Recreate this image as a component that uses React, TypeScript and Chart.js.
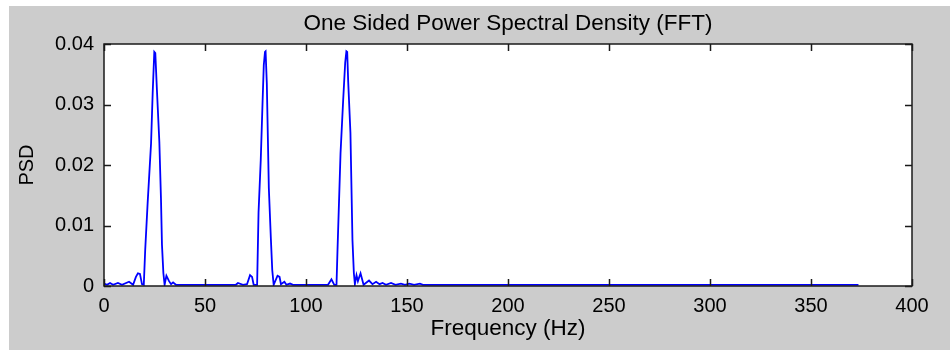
import React, { useEffect, useRef, useState } from "react";
import Chart from "chart.js/auto";

const chartTitle = "One Sided Power Spectral Density (FFT)";
const xAxisTitle = "Frequency (Hz)";
const yAxisTitle = "PSD";

const xTickValues = [0, 50, 100, 150, 200, 250, 300, 350, 400];
const yTickValues = [0, 0.01, 0.02, 0.03, 0.04];

// Frequency (Hz) of each sample of the spectrum
const freqHz = [
  0, 1.5, 3.0, 4.5, 6.9, 8.9, 12.4, 14.4, 15.8, 16.8, 17.8, 18.8,
  19.7, 20.4, 21.6, 23.3, 24.1, 24.9, 25.4, 26.2, 27.4, 28.2, 28.7, 29.4, 30.0,
  30.9, 32.2, 33.2, 34.2, 35.6,
  65.3, 66.3, 68.8, 70.8, 72.3, 73.3, 74.1, 75.8,
  76.5, 77.6, 78.5, 79.1, 79.7, 80.0, 80.6, 81.6, 82.6, 83.3, 84.0,
  85.9, 86.9, 87.6, 89.3, 90.3, 92.1, 93.6,
  110.9, 112.6, 114.0, 115.1,
  115.6, 117.1, 118.4, 119.4, 120.0, 120.4, 120.9, 122.0, 123.0, 123.7, 124.2,
  125.0, 125.7, 127.0, 128.5, 131.2, 132.9, 134.7, 136.4, 137.9, 139.6,
  142.1, 144.3, 147.0, 149.0, 151.2, 153.5, 156.4, 157.9,
  373.5,
];

// One-sided PSD value at each frequency above
const psd = [
  0.0004, 0.0002, 0.0005, 0.0002, 0.0005, 0.0002, 0.0007, 0.0002, 0.0015, 0.0021, 0.002, 0.0003,
  0.0002, 0.006, 0.0137, 0.0236, 0.0319, 0.0387, 0.0385, 0.0324, 0.0238, 0.0145, 0.0068, 0.0021, 0.0002,
  0.0017, 0.0008, 0.0003, 0.0006, 0.0002,
  0.0002, 0.0005, 0.0002, 0.0003, 0.0018, 0.0015, 0.0002, 0.0002,
  0.0121, 0.0208, 0.0304, 0.0365, 0.0387, 0.0388, 0.0335, 0.0162, 0.0079, 0.0026, 0.0002,
  0.0017, 0.0015, 0.0003, 0.0007, 0.0002, 0.0004, 0.0002,
  0.0002, 0.0011, 0.0002, 0.0002,
  0.006, 0.022, 0.0307, 0.0369, 0.0388, 0.0387, 0.0337, 0.0253, 0.0076, 0.0021, 0.0003,
  0.0018, 0.0008, 0.0021, 0.0002, 0.0009, 0.0003, 0.0007, 0.0003, 0.0005, 0.0002,
  0.0005, 0.0002, 0.0004, 0.0002, 0.0004, 0.0002, 0.0004, 0.0002,
  0.0002,
];

const FONT = "'Liberation Sans', Arial, Helvetica, sans-serif";

const framePlugin = {
  id: "matlabFrame",
  afterDraw(chart: any) {
    const ctx = chart.ctx;
    const area = chart.chartArea;
    const left = area.left;
    const right = area.right;
    const top = area.top;
    const bottom = area.bottom;
    const xs = chart.scales.x;
    const ys = chart.scales.y;
    const len = 7;
    ctx.save();
    ctx.strokeStyle = "#1a1a1a";
    ctx.lineWidth = 1.5;
    ctx.beginPath();
    xTickValues.forEach((v) => {
      const px = Math.round(xs.getPixelForValue(v)) + 0.5;
      ctx.moveTo(px, bottom);
      ctx.lineTo(px, bottom - len);
      ctx.moveTo(px, top);
      ctx.lineTo(px, top + len);
    });
    yTickValues.forEach((v) => {
      const py = Math.round(ys.getPixelForValue(v)) + 0.5;
      ctx.moveTo(left, py);
      ctx.lineTo(left + len, py);
      ctx.moveTo(right, py);
      ctx.lineTo(right - len, py);
    });
    ctx.stroke();
    ctx.strokeRect(left, top, right - left, bottom - top);
    ctx.restore();
  },
};

export default function App() {
  const canvasRef = useRef<HTMLCanvasElement | null>(null);
  const [area, setArea] = useState<any>(null);

  useEffect(() => {
    const canvas = canvasRef.current;
    if (!canvas) return;
    const points = freqHz.map((f, i) => ({ x: f, y: psd[i] }));
    const chart = new Chart(canvas, {
      type: "line",
      data: {
        datasets: [
          {
            data: points,
            borderColor: "#0000ff",
            borderWidth: 1.8,
            pointRadius: 0,
            tension: 0,
            fill: false,
          },
        ],
      },
      options: {
        animation: false,
        responsive: false,
        devicePixelRatio: 1,
        layout: { padding: { left: 0, right: 38, top: 0, bottom: 0 } },
        plugins: {
          legend: { display: false },
          tooltip: { enabled: false },
          title: {
            display: true,
            text: chartTitle,
            fullSize: false,
            color: "#000",
            font: { family: FONT, size: 22.5, weight: "normal" },
            padding: { top: 4, bottom: 7 },
          },
        },
        scales: {
          x: {
            type: "linear",
            min: 0,
            max: 400,
            afterBuildTicks: (s: any) => {
              s.ticks = xTickValues.map((v) => ({ value: v }));
            },
            ticks: {
              color: "#000",
              padding: 8,
              maxRotation: 0,
              autoSkip: false,
              font: { family: FONT, size: 20 },
              callback: (v: any) => String(v),
            },
            grid: { display: false, drawTicks: false },
            border: { display: false },
            title: {
              display: true,
              text: xAxisTitle,
              color: "#000",
              font: { family: FONT, size: 22.5 },
              padding: { top: 0, bottom: 8 },
            },
            afterFit: (s: any) => {
              s.height = 64;
            },
          },
          y: {
            type: "linear",
            min: 0,
            max: 0.04,
            afterBuildTicks: (s: any) => {
              s.ticks = yTickValues.map((v) => ({ value: v }));
            },
            ticks: {
              color: "#000",
              padding: 10,
              autoSkip: false,
              font: { family: FONT, size: 20 },
              callback: (v: any) => (Number(v) === 0 ? "0" : Number(v).toFixed(2)),
            },
            grid: { display: false, drawTicks: false },
            border: { display: false },
            title: {
              display: true,
              text: yAxisTitle,
              color: "#000",
              font: { family: FONT, size: 20 },
              padding: { top: 6, bottom: 0 },
            },
            afterFit: (s: any) => {
              s.width = 95;
            },
          },
        },
      },
      plugins: [framePlugin],
    });
    const ca = chart.chartArea;
    setArea({ left: ca.left, top: ca.top, width: ca.right - ca.left, height: ca.bottom - ca.top });
    return () => chart.destroy();
  }, []);

  return (
    <div
      style={{
        position: "fixed",
        left: 9,
        top: 6,
        width: 941,
        height: 344,
        background: "#cccccc",
      }}
    >
      {area && (
        <div
          style={{
            position: "absolute",
            left: area.left,
            top: area.top,
            width: area.width,
            height: area.height,
            background: "#ffffff",
          }}
        />
      )}
      <canvas
        ref={canvasRef}
        width={941}
        height={344}
        style={{ display: "block", position: "absolute", left: 0, top: 0 }}
      />
    </div>
  );
}
